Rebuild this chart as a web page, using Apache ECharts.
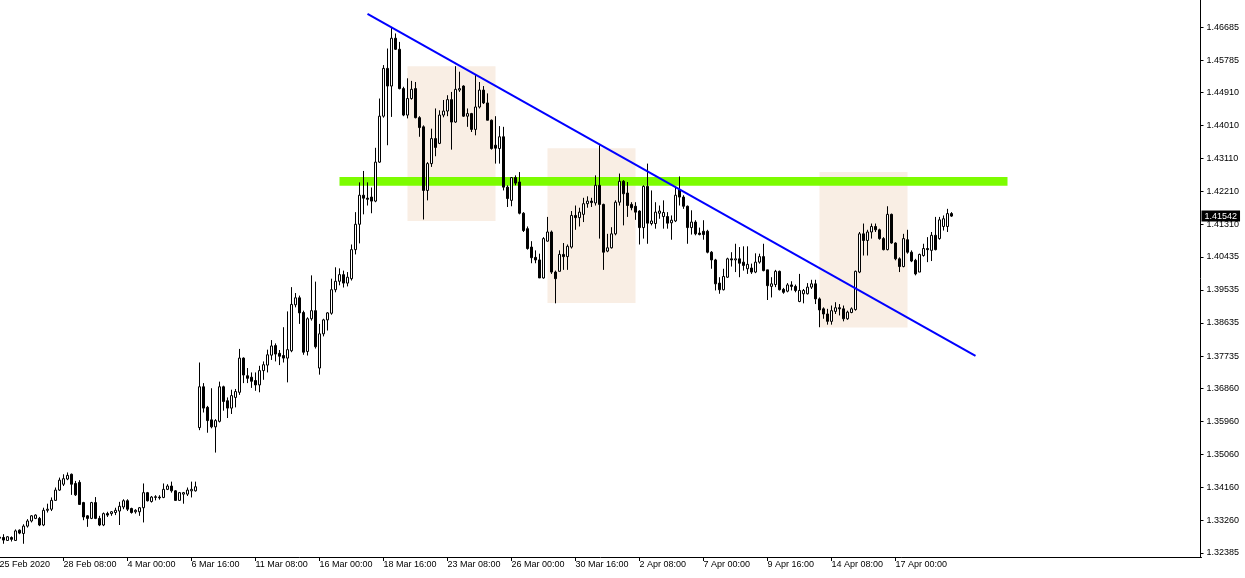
<!DOCTYPE html>
<html>
<head>
<meta charset="utf-8">
<script src="https://cdn.jsdelivr.net/npm/echarts@6/dist/echarts.min.js"></script>
<style>
html,body{margin:0;padding:0;background:#fff;}
#chart{width:1245px;height:578px;}
</style>
</head>
<body>
<div id="chart"></div>
<script>
// ---- data (USDCAD H4) ----
const opens = [1.3278,1.3280,1.3272,1.3280,1.3272,1.3300,1.3291,1.3311,1.3325,1.3332,1.3332,1.3314,1.3354,1.3357,1.3381,1.3409,1.3425,1.3439,1.3452,1.3427,
1.3430,1.3375,1.3339,1.3332,1.3375,1.3332,1.3314,1.3345,1.3345,1.3348,1.3352,1.3363,1.3380,1.3359,1.3350,1.3350,1.3361,1.3402,1.3378,1.3389,
1.3390,1.3389,1.3411,1.3420,1.3407,1.3381,1.3398,1.3398,1.3407,1.3407,1.3579,1.3690,1.3634,1.3600,1.3581,1.3596,1.3690,1.3652,1.3632,1.3661,
1.3675,1.3768,1.3720,1.3716,1.3707,1.3695,1.3734,1.3749,1.3776,1.3802,1.3781,1.3775,1.3768,1.3788,1.3913,1.3932,1.3892,1.3786,1.3875,1.3897,
1.3741,1.3834,1.3872,1.3890,1.3954,1.3977,1.3995,1.3972,1.3984,1.4063,1.4132,1.4211,1.4203,1.4206,1.4195,1.4301,1.4426,1.4556,1.4508,1.4638,
1.4608,1.4501,1.4429,1.4474,1.4501,1.4422,1.4397,1.4224,1.4297,1.4365,1.4352,1.4429,1.4440,1.4471,1.4410,1.4497,1.4508,1.4426,1.4433,1.4390,
1.4451,1.4497,1.4462,1.4415,1.4347,1.4338,1.4370,1.4233,1.4197,1.4259,1.4247,1.4162,1.4120,1.4070,1.4042,1.4035,1.3986,1.4086,1.4111,1.4002,
1.4004,1.4050,1.4044,1.4070,1.4156,1.4150,1.4159,1.4188,1.4195,1.4190,1.4238,1.4186,1.4059,1.4068,1.4106,1.4192,1.4249,1.4217,1.4186,1.4181,
1.4168,1.4123,1.4235,1.4134,1.4134,1.4162,1.4153,1.4153,1.4136,1.4141,1.4226,1.4206,1.4181,1.4123,1.4138,1.4108,1.4113,1.4113,1.4056,1.4035,
1.3972,1.3954,1.3988,1.4038,1.4035,1.4038,1.4029,1.4011,1.4013,1.4002,1.4029,1.4044,1.4008,1.3963,1.3968,1.4004,1.3955,1.3950,1.3967,1.3963,
1.3922,1.3943,1.3943,1.3961,1.3970,1.3929,1.3902,1.3888,1.3868,1.3895,1.3905,1.3902,1.3875,1.3892,1.3900,1.4002,1.4106,1.4088,1.4111,1.4126,
1.4117,1.4093,1.4063,1.4159,1.4081,1.4038,1.4017,1.4090,1.4056,1.4034,1.4002,1.4047,1.4066,1.4061,1.4102,1.4093,1.4126,1.4126,1.4161];
const closes = [1.3281,1.3273,1.3282,1.3275,1.3298,1.3292,1.3311,1.3325,1.3339,1.3341,1.3314,1.3354,1.3357,1.3381,1.3409,1.3436,1.3440,1.3449,1.3425,1.3396,
1.3370,1.3336,1.3332,1.3375,1.3332,1.3314,1.3345,1.3341,1.3350,1.3354,1.3365,1.3380,1.3357,1.3348,1.3354,1.3361,1.3402,1.3380,1.3390,1.3391,
1.3388,1.3411,1.3420,1.3407,1.3381,1.3402,1.3402,1.3409,1.3411,1.3418,1.3690,1.3632,1.3598,1.3581,1.3598,1.3690,1.3650,1.3632,1.3666,1.3677,
1.3768,1.3722,1.3713,1.3705,1.3695,1.3734,1.3750,1.3777,1.3801,1.3779,1.3773,1.3768,1.3791,1.3914,1.3932,1.3891,1.3784,1.3875,1.3897,1.3799,
1.3834,1.3872,1.3891,1.3954,1.3977,1.3995,1.3972,1.3988,1.4063,1.4132,1.4211,1.4203,1.4200,1.4195,1.4301,1.4426,1.4556,1.4508,1.4638,1.4608,
1.4501,1.4429,1.4474,1.4499,1.4422,1.4395,1.4224,1.4297,1.4365,1.4341,1.4429,1.4440,1.4471,1.4410,1.4499,1.4501,1.4426,1.4433,1.4390,1.4451,
1.4497,1.4462,1.4415,1.4338,1.4339,1.4370,1.4233,1.4202,1.4259,1.4244,1.4162,1.4115,1.4066,1.4041,1.4035,1.3986,1.4093,1.4111,1.4002,1.3984,
1.4050,1.4044,1.4072,1.4156,1.4150,1.4165,1.4188,1.4195,1.4191,1.4238,1.4186,1.4056,1.4068,1.4106,1.4192,1.4249,1.4215,1.4183,1.4177,1.4165,
1.4123,1.4235,1.4135,1.4141,1.4165,1.4168,1.4164,1.4135,1.4143,1.4211,1.4206,1.4181,1.4123,1.4138,1.4106,1.4104,1.4104,1.4056,1.4035,1.3970,
1.3954,1.3990,1.4038,1.4035,1.4038,1.4026,1.4020,1.4023,1.4002,1.4029,1.4044,1.4006,1.3965,1.3970,1.4004,1.3954,1.3947,1.3967,1.3963,1.3952,
1.3952,1.3952,1.3961,1.3970,1.3929,1.3899,1.3888,1.3868,1.3897,1.3905,1.3902,1.3875,1.3893,1.3902,1.4004,1.4106,1.4088,1.4111,1.4126,1.4117,
1.4093,1.4063,1.4159,1.4081,1.4038,1.4017,1.4093,1.4056,1.4032,1.3997,1.4050,1.4066,1.4063,1.4102,1.4063,1.4144,1.4147,1.4161,1.41542];
const lows = [1.3272,1.3263,1.3271,1.3269,1.3271,1.3289,1.3263,1.3307,1.3321,1.3330,1.3311,1.3311,1.3348,1.3352,1.3380,1.3407,1.3420,1.3436,1.3396,1.3393,
1.3369,1.3327,1.3309,1.3330,1.3330,1.3311,1.3311,1.3336,1.3339,1.3341,1.3314,1.3357,1.3352,1.3345,1.3345,1.3339,1.3321,1.3378,1.3375,1.3381,
1.3383,1.3387,1.3409,1.3402,1.3380,1.3380,1.3372,1.3393,1.3389,1.3405,1.3572,1.3620,1.3565,1.3577,1.3511,1.3593,1.3625,1.3605,1.3616,1.3634,
1.3668,1.3700,1.3700,1.3687,1.3679,1.3675,1.3709,1.3729,1.3763,1.3759,1.3749,1.3756,1.3702,1.3784,1.3906,1.3861,1.3777,1.3775,1.3870,1.3794,
1.3723,1.3827,1.3843,1.3886,1.3947,1.3966,1.3960,1.3963,1.3979,1.4050,1.4080,1.4159,1.4183,1.4162,1.4192,1.4299,1.4422,1.4347,1.4424,1.4606,
1.4499,1.4426,1.4420,1.4471,1.4420,1.4370,1.4145,1.4197,1.4288,1.4317,1.4350,1.4423,1.4426,1.4335,1.4408,1.4492,1.4424,1.4397,1.4383,1.4374,
1.4447,1.4459,1.4415,1.4335,1.4297,1.4297,1.4224,1.4179,1.4181,1.4238,1.4159,1.4111,1.4063,1.4026,1.4026,1.3986,1.3984,1.4085,1.3997,1.3917,
1.4004,1.4008,1.4008,1.4066,1.4117,1.4126,1.4138,1.4177,1.4179,1.4183,1.4093,1.4008,1.4056,1.4066,1.4102,1.4183,1.4129,1.4152,1.4170,1.4144,
1.4077,1.4093,1.4079,1.4129,1.4120,1.4147,1.4120,1.4120,1.4090,1.4138,1.4183,1.4174,1.4079,1.4104,1.4102,1.4102,1.4090,1.4053,1.4011,1.3952,
1.3943,1.3952,1.3986,1.4017,1.4002,1.3988,1.4006,1.3997,1.3997,1.3999,1.4025,1.4004,1.3926,1.3933,1.3961,1.3952,1.3943,1.3947,1.3952,1.3947,
1.3920,1.3917,1.3941,1.3956,1.3915,1.3852,1.3875,1.3859,1.3859,1.3888,1.3884,1.3868,1.3872,1.3890,1.3897,1.3999,1.4047,1.4047,1.4093,1.4111,
1.4090,1.4061,1.4061,1.4079,1.4034,1.4002,1.4015,1.4052,1.4029,1.3993,1.4002,1.4044,1.4029,1.4032,1.4061,1.4090,1.4115,1.4111,1.4152];
const highs = [1.3285,1.3289,1.3284,1.3283,1.3302,1.3302,1.3316,1.3330,1.3341,1.3343,1.3336,1.3361,1.3372,1.3389,1.3416,1.3443,1.3452,1.3457,1.3454,1.3434,
1.3436,1.3377,1.3341,1.3377,1.3390,1.3339,1.3348,1.3350,1.3352,1.3361,1.3377,1.3384,1.3384,1.3361,1.3357,1.3363,1.3427,1.3404,1.3393,1.3395,
1.3395,1.3427,1.3425,1.3432,1.3409,1.3404,1.3404,1.3416,1.3432,1.3432,1.3756,1.3700,1.3638,1.3686,1.3602,1.3704,1.3693,1.3661,1.3682,1.3684,
1.3793,1.3770,1.3741,1.3729,1.3729,1.3747,1.3759,1.3791,1.3817,1.3808,1.3790,1.3852,1.3895,1.3961,1.3945,1.3938,1.3897,1.3879,1.3993,1.3976,
1.3861,1.3875,1.3893,1.3984,1.4015,1.4012,1.4006,1.4002,1.4077,1.4165,1.4246,1.4277,1.4246,1.4232,1.4340,1.4474,1.4565,1.4610,1.4667,1.4651,
1.4628,1.4506,1.4529,1.4522,1.4519,1.4426,1.4401,1.4301,1.4392,1.4447,1.4442,1.4470,1.4483,1.4492,1.4562,1.4547,1.4510,1.4447,1.4435,1.4538,
1.4519,1.4508,1.4488,1.4417,1.4426,1.4399,1.4397,1.4238,1.4260,1.4265,1.4274,1.4165,1.4126,1.4086,1.4061,1.4052,1.4097,1.4152,1.4115,1.4006,
1.4061,1.4081,1.4077,1.4168,1.4183,1.4177,1.4204,1.4208,1.4204,1.4265,1.4347,1.4188,1.4106,1.4124,1.4197,1.4270,1.4252,1.4247,1.4192,1.4192,
1.4170,1.4238,1.4297,1.4224,1.4192,1.4183,1.4197,1.4165,1.4156,1.4233,1.4262,1.4211,1.4183,1.4170,1.4143,1.4123,1.4143,1.4117,1.4059,1.4038,
1.3988,1.4011,1.4041,1.4056,1.4079,1.4070,1.4072,1.4072,1.4025,1.4053,1.4052,1.4079,1.4008,1.3988,1.4008,1.4006,1.3959,1.3972,1.3977,1.3968,
1.3997,1.3956,1.3972,1.3981,1.3981,1.3933,1.3906,1.3902,1.3911,1.3920,1.3915,1.3911,1.3897,1.3906,1.4006,1.4111,1.4134,1.4117,1.4134,1.4134,
1.4120,1.4097,1.4181,1.4161,1.4083,1.4042,1.4106,1.4117,1.4061,1.4038,1.4052,1.4079,1.4097,1.4111,1.4152,1.4152,1.4156,1.4174,1.4165];

const xTickLabels = ['25 Feb 2020','28 Feb 08:00','4 Mar 00:00','6 Mar 16:00','11 Mar 08:00','16 Mar 00:00','18 Mar 16:00',
  '23 Mar 08:00','26 Mar 00:00','30 Mar 16:00','2 Apr 08:00','7 Apr 00:00','9 Apr 16:00','14 Apr 08:00','17 Apr 00:00'];
const yTickValues = [1.32385,1.33260,1.34160,1.35060,1.35960,1.36860,1.37735,1.38635,1.39535,1.40435,1.41310,1.42210,
  1.43110,1.44010,1.44910,1.45785,1.46685];
const lastPrice = 1.41542;

// drawing objects: [startBar, topPrice, endBar, bottomPrice]
const zones = [[102,1.4562,124,1.4141],[137,1.4339,159,1.3918],[205,1.4274,227,1.3851]];
const resistanceBand = [85,1.42606,252,1.42369];
const trendLine = [[92,1.4704],[244,1.3774]];

// ---- build ----
const BAR_COUNT = 301;
const Y_MIN = 1.3227, Y_MAX = 1.4742;
const MONTHS = ['Jan','Feb','Mar','Apr','May','Jun','Jul','Aug','Sep','Oct','Nov','Dec'];
const categories = [];
(function(){
  let t = Date.UTC(2020,1,25,16);
  while (categories.length < BAR_COUNT) {
    const d = new Date(t);
    const wd = d.getUTCDay();
    if (wd !== 0 && wd !== 6) {
      const hh = String(d.getUTCHours()).padStart(2,'0');
      categories.push(d.getUTCDate()+' '+MONTHS[d.getUTCMonth()]+' '+hh+':00');
    }
    t += 4*3600*1000;
  }
})();
const ohlc = opens.map((o,i)=>[o, closes[i], lows[i], highs[i]]);
const nData = ohlc.length;
const isTick = (idx)=> idx % 16 === 0 && idx/16 < xTickLabels.length && idx < nData;

const FONT = 'Liberation Sans';
const areaData = zones.map(z=>[
  {xAxis:z[0], yAxis:z[1], itemStyle:{color:'#F9EEE4'}},
  {xAxis:z[2], yAxis:z[3]}
]);
areaData.push([
  {xAxis:resistanceBand[0], yAxis:resistanceBand[1], itemStyle:{color:'#7CFC00'}},
  {xAxis:resistanceBand[2], yAxis:resistanceBand[3]}
]);

const chart = echarts.init(document.getElementById('chart'), null, {renderer:'canvas'});
chart.setOption({
  animation:false,
  backgroundColor:'#ffffff',
  grid:{left:-2.5, right:43.5, top:0, bottom:21, containLabel:false, outerBoundsMode:'none'},
  xAxis:{
    type:'category', data:categories, boundaryGap:true,
    axisLine:{show:true, lineStyle:{color:'#000', width:1}},
    axisTick:{show:true, alignWithLabel:true, length:4, inside:false,
      interval:(idx)=>isTick(idx), lineStyle:{color:'#000'}},
    axisLabel:{show:true, interval:(idx)=>isTick(idx), align:'left', margin:3,
      color:'#000', fontFamily:FONT, fontSize:9,
      formatter:(v, idx)=> isTick(idx) ? xTickLabels[idx/16] : ''},
    splitLine:{show:false}
  },
  yAxis:[
    {
      type:'value', position:'right', min:Y_MIN, max:Y_MAX, offset:-1,
      axisLine:{show:true, onZero:false, lineStyle:{color:'#000', width:1}},
      axisTick:{show:true, length:3, inside:false, customValues:yTickValues, lineStyle:{color:'#000'}},
      axisLabel:{show:true, customValues:yTickValues, margin:6, color:'#000',
        fontFamily:FONT, fontSize:9, formatter:(v)=>v.toFixed(5)},
      splitLine:{show:false}
    },
    {
      type:'value', position:'right', min:Y_MIN, max:Y_MAX, offset:-1, z:10,
      axisLine:{show:false}, axisTick:{show:false}, splitLine:{show:false},
      axisLabel:{show:true, customValues:[lastPrice], margin:1, color:'#fff',
        backgroundColor:'#000', padding:[1,3,1,3], fontFamily:FONT, fontSize:9,
        formatter:(v)=>v.toFixed(5)}
    }
  ],
  series:[
    {
      type:'candlestick', data:ohlc, barWidth:2, z:2, yAxisIndex:0,
      itemStyle:{color:'#ffffff', color0:'#000000', borderColor:'#000000', borderColor0:'#000000', borderWidth:1},
      markArea:{silent:true, z:1, data:areaData},
      markLine:{
        silent:true, symbol:'none', z:5,
        lineStyle:{color:'#0000ff', width:2, type:'solid'}, label:{show:false},
        data:[[{coord:trendLine[0]}, {coord:trendLine[1]}]]
      }
    }
  ]
});
</script>
</body>
</html>
